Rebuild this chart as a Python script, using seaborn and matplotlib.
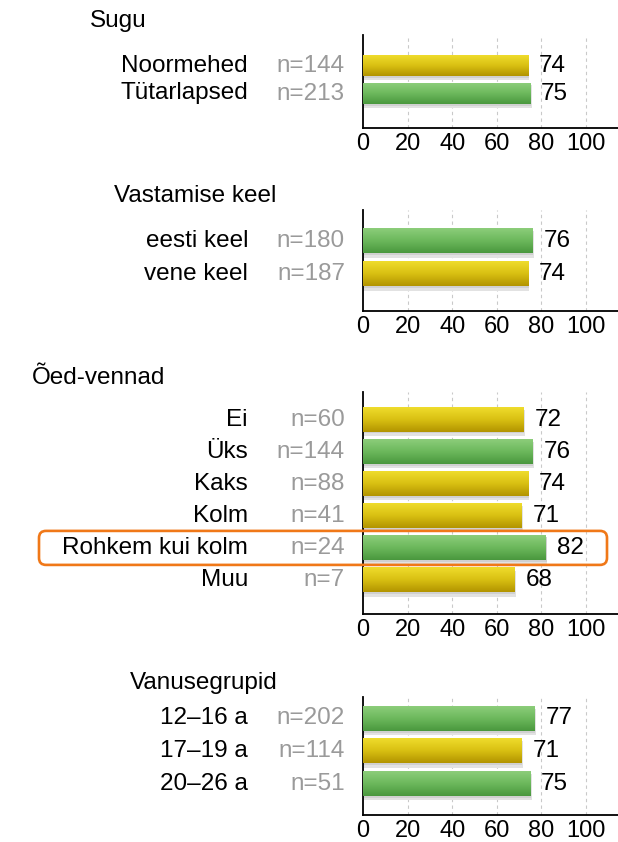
import numpy as np
import pandas as pd
import seaborn as sns
import matplotlib.pyplot as plt
from matplotlib import font_manager, transforms
from matplotlib.colors import LinearSegmentedColormap
from matplotlib.patches import FancyBboxPatch, Rectangle

# --- data ---
sugu_labels = ['Noormehed', 'Tütarlapsed']
sugu_n = [144, 213]
sugu_values = [74, 75]

keel_labels = ['eesti keel', 'vene keel']
keel_n = [180, 187]
keel_values = [76, 74]

oed_labels = ['Ei', 'Üks', 'Kaks', 'Kolm', 'Rohkem kui kolm', 'Muu']
oed_n = [60, 144, 88, 41, 24, 7]
oed_values = [72, 76, 74, 71, 82, 68]

vanus_labels = ['12–16 a', '17–19 a', '20–26 a']
vanus_n = [202, 114, 51]
vanus_values = [77, 71, 75]

panel_titles = ['Sugu', 'Vastamise keel', 'Õed-vennad', 'Vanusegrupid']
highlight = 'Rohkem kui kolm'
x_ticks = [0, 20, 40, 60, 80, 100]
green_from = 75

# --- layout, in pixels of the 618x842 picture ---
W, H = 618, 842
# (axes top, x-axis line, first bar centre, last bar centre)
panel_px = [(35, 128, 65.5, 93.5),
            (210, 311, 241, 274),
            (392, 614, 419.5, 580),
            (697, 815, 718.5, 783.5)]
axes_left, axes_right = 363, 618
cat_right, n_right = 248, 345

sns.set_style('white')
names = {f.name for f in font_manager.fontManager.ttflist}
if 'Liberation Sans Narrow' in names:
    family, fs, tick_fs = 'Liberation Sans Narrow', 21.5, 20
else:
    family, fs, tick_fs = 'Liberation Sans', 17.5, 17
plt.rcParams['font.family'] = [family, 'DejaVu Sans']

yellow = LinearSegmentedColormap.from_list('y', ['#efdc2c', '#d9c012', '#b29400'])
green = LinearSegmentedColormap.from_list('g', ['#8ccd7a', '#6cb85c', '#4a983e'])
grad = np.linspace(0, 1, 64).reshape(-1, 1)

fig = plt.figure(figsize=(W / 100, H / 100), dpi=100)

panels = [(sugu_labels, sugu_n, sugu_values),
          (keel_labels, keel_n, keel_values),
          (oed_labels, oed_n, oed_values),
          (vanus_labels, vanus_n, vanus_values)]

cat_texts = []
axes = []
for (labels, ns, values), (top, bottom, c0, c1) in zip(panels, panel_px):
    ax = fig.add_axes([axes_left / W, 1 - bottom / H,
                       (axes_right - axes_left) / W, (bottom - top) / H])
    df = pd.DataFrame({'label': labels, 'value': values})
    colors = ['#6cb85c' if v >= green_from else '#d9c012' for v in values]
    sns.barplot(data=df, x='value', y='label', hue='label', palette=colors,
                orient='h', width=0.75, legend=False, ax=ax, zorder=3)

    n = len(labels)
    pitch = (c1 - c0) / (n - 1)
    for i, patch in enumerate(ax.patches):
        x0, y0 = patch.get_x(), patch.get_y()
        w, h = patch.get_width(), patch.get_height()
        cmap = green if values[i] >= green_from else yellow
        # soft drop shadow behind the bar
        ax.add_patch(Rectangle((x0, y0 + 0.08), w + 0.6, h + 0.06,
                               color='#e2e2e2', zorder=1.5, lw=0))
        ax.add_patch(Rectangle((x0, y0 + 0.04), w + 0.3, h + 0.02,
                               color='#d0d0d0', zorder=1.6, lw=0))
        ax.imshow(grad, cmap=cmap, aspect='auto', origin='upper',
                  extent=(x0, x0 + w, y0 + h, y0), zorder=3.5,
                  interpolation='bilinear')
        patch.set_edgecolor('none')

    for t in x_ticks[1:]:
        ax.axvline(t, color='#c9c9c9', ls=(0, (3, 3)), lw=0.8, zorder=0.5)

    ax.set_xlim(0, (axes_right - axes_left) / 2.23)
    ax.set_ylim(n - 1 + (bottom - c1) / pitch, -(c0 - top) / pitch)
    ax.set_xticks(x_ticks)
    ax.set_xticklabels([str(t) for t in x_ticks])
    ax.set_yticks([])
    ax.set_xlabel('')
    ax.set_ylabel('')
    ax.tick_params(axis='x', direction='out', length=5, width=1, pad=-1.5,
                   labelsize=tick_fs, colors='black')
    for side in ['top', 'right']:
        ax.spines[side].set_visible(False)
    for side in ['left', 'bottom']:
        ax.spines[side].set_color('black')
        ax.spines[side].set_linewidth(1.3)

    tr = transforms.blended_transform_factory(fig.transFigure, ax.transData)
    texts = []
    for i, (lab, nn, v) in enumerate(zip(labels, ns, values)):
        texts.append(ax.text(cat_right / W, i, lab, transform=tr, ha='right',
                             va='center', fontsize=fs, color='black'))
        ax.text(n_right / W, i, f'n={nn}', transform=tr, ha='right',
                va='center', fontsize=fs, color='#9a9a9a')
        ax.text(v + 4.9, i, str(v), ha='left', va='center', fontsize=fs,
                color='black', zorder=5)
    cat_texts.append(texts)
    axes.append(ax)

# titles sit a little left of the longest category label
fig.canvas.draw()
renderer = fig.canvas.get_renderer()
for title, texts, (top, bottom, c0, c1) in zip(panel_titles, cat_texts, panel_px):
    left = min(t.get_window_extent(renderer).x0 for t in texts)
    fig.text((left - 30) / W, 1 - (top - 14) / H, title, ha='left',
             va='center', fontsize=fs, color='black')

# orange frame around the highlighted row
ax = axes[2]
row = oed_labels.index(highlight)
yc = ax.transData.transform((0, row))[1]
fig.add_artist(FancyBboxPatch((39, yc - 17), 568, 34,
                              boxstyle='round,pad=0,rounding_size=7',
                              transform=None, fill=False,
                              ec='#f07818', lw=1.9, zorder=10))

fig.savefig('out.png', dpi=100)
